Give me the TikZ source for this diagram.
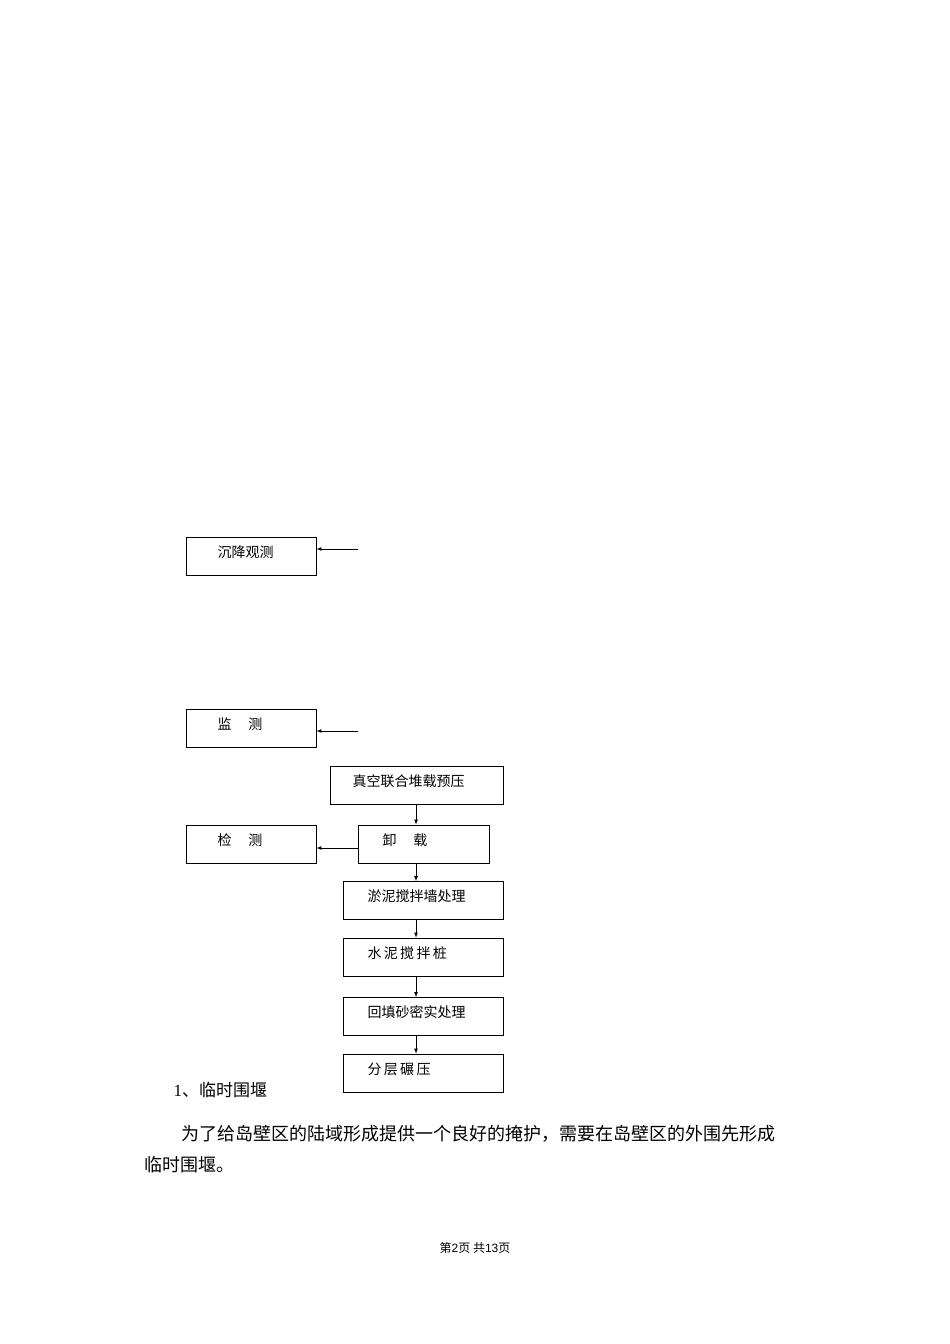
\documentclass[tikz,border=0pt]{standalone}
\usepackage{fontspec}
\setmainfont{Liberation Serif}
\newfontfamily\cjk{Noto Sans CJK SC}
\newfontfamily\footfont{Liberation Sans}
\begin{document}
\begin{tikzpicture}[x=1pt,y=-1pt,
  bx/.style={draw,line width=0.8pt,minimum height=38pt,inner sep=0pt},
  lb/.style={anchor=west,font=\cjk\fontsize{14}{14}\selectfont},
  ar/.style={-latex,line width=0.7pt}]
\useasboundingbox (0,0) rectangle (950,1344);
\fill[white] (0,0) rectangle (950,1344);
% boxes
\node[bx,minimum width=130pt] (a) at (251,556) {};
\node[lb] at (214,552) {沉降观测};
\coordinate (ae) at (358,549);
\draw[ar] (ae) -- (a.east |- ae);
\node[bx,minimum width=130pt] (b) at (251,728) {};
\node[lb] at (214,724) {监\hspace{1.2em}测};
\coordinate (be) at (358,731);
\draw[ar] (be) -- (b.east |- be);
\node[bx,minimum width=173pt] (c) at (416.5,785) {};
\node[lb] at (349,781) {真空联合堆载预压};
\node[bx,minimum width=131pt] (d) at (423.5,844) {};
\node[lb] at (379,840) {卸\hspace{1.2em}载};
\node[bx,minimum width=130pt] (e) at (251,844) {};
\node[lb] at (214,840) {检\hspace{1.2em}测};
\draw[ar] (d.west |- 0,848) -- (e.east |- 0,848);
\node[bx,minimum width=160pt] (f) at (423,900.5) {};
\node[lb] at (364,896) {淤泥搅拌墙处理};
\node[bx,minimum width=160pt] (g) at (423,957) {};
\node[lb] at (364,953) {水\,泥\,搅\,拌\,桩};
\node[bx,minimum width=160pt] (h) at (423,1016.5) {};
\node[lb] at (364,1012) {回填砂密实处理};
\node[bx,minimum width=160pt] (i) at (423,1073) {};
\node[lb] at (364,1069) {分\,层\,碾\,压};
\draw[ar] (c.south -| 416,0) -- (d.north -| 416,0);
\draw[ar] (d.south -| 416,0) -- (f.north -| 416,0);
\draw[ar] (f.south -| 416,0) -- (g.north -| 416,0);
\draw[ar] (g.south -| 416,0) -- (h.north -| 416,0);
\draw[ar] (h.south -| 416,0) -- (i.north -| 416,0);
% text
\node[anchor=west,font=\fontsize{17}{17}\selectfont] (t1) at (170,1090) {1\cjk、临时围堰};
\node[anchor=west,font=\cjk\fontsize{18}{18}\selectfont] (p1) at (178,1134) {为了给岛壁区的陆域形成提供一个良好的掩护，需要在岛壁区的外围先形成};
\node[anchor=west,font=\cjk\fontsize{18}{18}\selectfont] (p2) at (141,1165) {临时围堰。};
\node[font=\fontsize{12}{12}\selectfont] (ft) at (475,1248) {\cjk 第\footfont 2\cjk 页 共\footfont 13\cjk 页};
\end{tikzpicture}
\end{document}
